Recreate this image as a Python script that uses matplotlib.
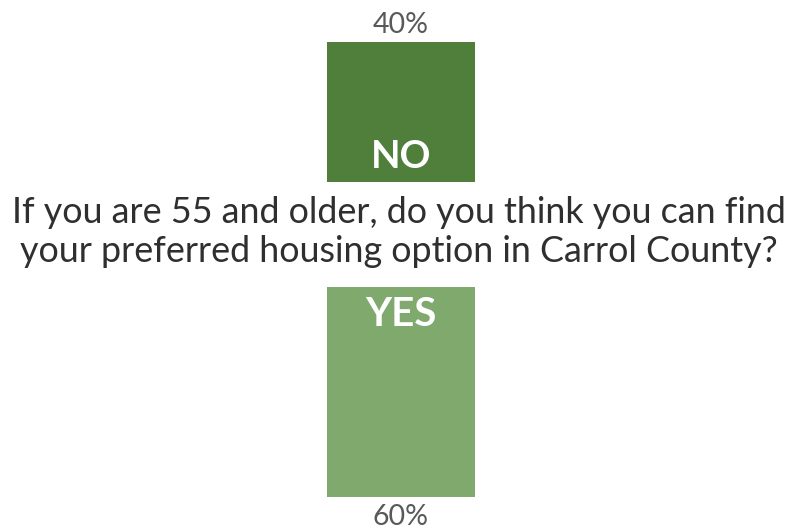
import matplotlib
matplotlib.use("Agg")
import matplotlib.pyplot as plt

answers = ["NO", "YES"]
shares = [40, 60]
question = ["If you are 55 and older, do you think you can find",
            "your preferred housing option in Carrol County?"]
bar_colors = ["#4f7f3b", "#80a96e"]

W, H = 798, 531
fig = plt.figure(figsize=(W / 100, H / 100), dpi=100)
fig.patch.set_facecolor("white")

SCALE = 3.5  # pixels per percentage point
PT = 0.72    # points per pixel at 100 dpi
left, width = 327, 148

def add_axes(top_px, height_px):
    return fig.add_axes([left / W, 1 - (top_px + height_px) / H, width / W, height_px / H])

font = "Lato"

# NO bar grows upward from its baseline
ax_no = add_axes(182 - shares[0] * SCALE, shares[0] * SCALE)
ax_no.bar([0], [shares[0]], width=1.0, color=bar_colors[0])
ax_no.set_xlim(-0.5, 0.5)
ax_no.set_ylim(0, shares[0])
ax_no.annotate(f"{shares[0]}%", (0, shares[0]), xytext=(0, 9 * PT), textcoords="offset points",
               ha="center", va="baseline", fontsize=20.5, color="#58595b", family=font)
ax_no.annotate(answers[0], (0, 0), xytext=(0, 14 * PT), textcoords="offset points",
               ha="center", va="baseline", fontsize=27.5, fontweight="bold",
               color="white", family=font)

# YES bar hangs downward from its baseline
ax_yes = add_axes(287, shares[1] * SCALE)
ax_yes.bar([0], [shares[1]], width=1.0, color=bar_colors[1])
ax_yes.set_xlim(-0.5, 0.5)
ax_yes.set_ylim(shares[1], 0)
ax_yes.annotate(f"{shares[1]}%", (0, shares[1]), xytext=(0, -28 * PT), textcoords="offset points",
                ha="center", va="baseline", fontsize=20.5, color="#58595b", family=font)
ax_yes.annotate(answers[1], (0, 0), xytext=(0, -39 * PT), textcoords="offset points",
                ha="center", va="baseline", fontsize=29, fontweight="bold",
                color="white", family=font)

for ax in (ax_no, ax_yes):
    ax.axis("off")

fig.text(0.5, 1 - 223 / H, question[0], ha="center", va="baseline", fontsize=25.8,
         color="#2f2f2f", family=font)
fig.text(0.5, 1 - 262 / H, question[1], ha="center", va="baseline", fontsize=25.8,
         color="#2f2f2f", family=font)

fig.savefig("out.png", dpi=100, facecolor="white")
